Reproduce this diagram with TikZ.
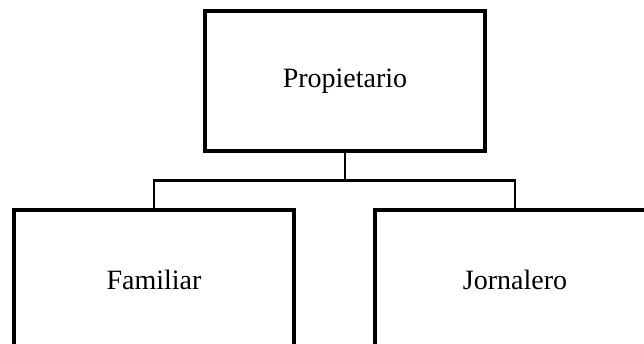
\documentclass[tikz,border=0pt]{standalone}
\usepackage{fontspec}
\setmainfont{Liberation Serif}
\begin{document}
\begin{tikzpicture}[x=1pt,y=-1pt,
  box/.style={draw=black, line width=3.3pt, fill=white, minimum width=280pt, minimum height=140pt, inner sep=0pt, outer sep=0pt, font=\fontsize{28}{32}\selectfont},
  conn/.style={draw=black, line width=2.2pt}]
\useasboundingbox (0,0) rectangle (644,344);
\clip (0,0) rectangle (644,344);
\node[box] (top) at (345,81) {Propietario};
\node[box] (fam) at (154,280) {Familiar};
\node[box] (jor) at (515,280) {Jornalero};
\coordinate (j) at (345,180.5);
\draw[conn] (top.south) -- (j);
\draw[conn] (j) -| (fam.north);
\draw[conn] (j) -| (jor.north);
\end{tikzpicture}
\end{document}
